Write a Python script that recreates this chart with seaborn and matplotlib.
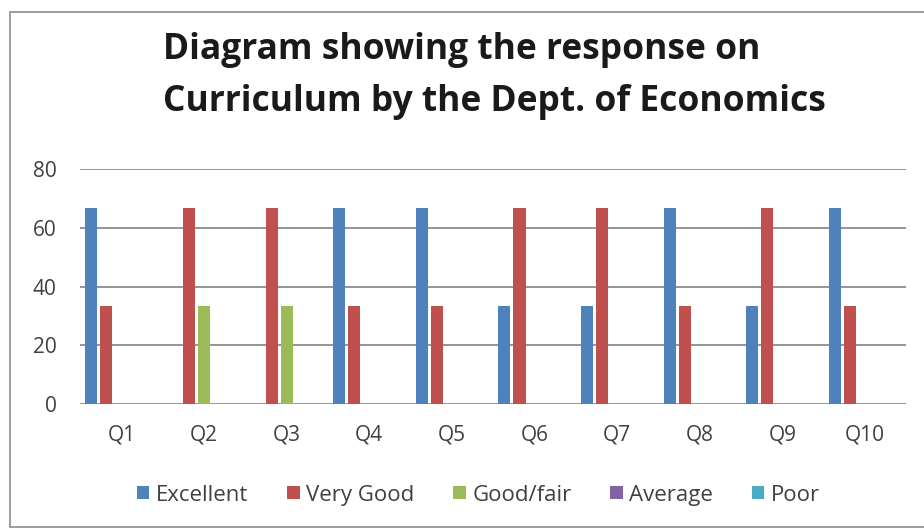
import pandas as pd
import matplotlib.pyplot as plt
import seaborn as sns
from matplotlib.patches import Rectangle

# data (percent of responses)
questions = ["Q1", "Q2", "Q3", "Q4", "Q5", "Q6", "Q7", "Q8", "Q9", "Q10"]
ratings = ["Excellent", "Very Good", "Good/fair", "Average", "Poor"]

excellent = [66.67, 0, 0, 66.67, 66.67, 33.33, 33.33, 66.67, 33.33, 66.67]
very_good = [33.33, 66.67, 66.67, 33.33, 33.33, 66.67, 66.67, 33.33, 66.67, 33.33]
good_fair = [0, 33.33, 33.33, 0, 0, 0, 0, 0, 0, 0]
average = [0, 0, 0, 0, 0, 0, 0, 0, 0, 0]
poor = [0, 0, 0, 0, 0, 0, 0, 0, 0, 0]

colors = ["#4F81BD", "#C0504D", "#9BBB59", "#8064A2", "#4BACC6"]

y_ticks = [0, 20, 40, 60, 80]

title = "Diagram showing the response on\nCurriculum by the Dept. of Economics"


# long format table for seaborn
series = [excellent, very_good, good_fair, average, poor]
rows = []
for rating, vals in zip(ratings, series):
    for q, v in zip(questions, vals):
        rows.append({"Question": q, "Rating": rating, "Value": v})
df = pd.DataFrame(rows)

sns.set_style("white")
plt.rcParams["font.family"] = ["Open Sans", "DejaVu Sans"]

fig = plt.figure(figsize=(9.24, 5.29), dpi=100)
ax = fig.add_axes([0.0866, 0.2363, 0.8944, 0.4442])

sns.barplot(
    data=df, x="Question", y="Value", hue="Rating",
    order=questions, hue_order=ratings, palette=colors, saturation=1,
    width=0.91, gap=0.2, linewidth=0, errorbar=None, ax=ax,
)

ax.set_ylim(0, 80)
ax.set_xlim(-0.5, len(questions) - 0.5)
ax.set_yticks(y_ticks)
ax.set_xlabel("")
ax.set_ylabel("")
ax.grid(axis="y", color="#8C8C8C", linewidth=1.3)
ax.set_axisbelow(True)
for s in ax.spines.values():
    s.set_visible(False)
ax.tick_params(axis="both", length=0, labelsize=15, labelcolor="#404040")
ax.tick_params(axis="y", pad=17)
ax.tick_params(axis="x", pad=15)

# legend under the plot
handles, labels = ax.get_legend_handles_labels()
ax.get_legend().remove()
fig.legend(handles, labels, loc="center", bbox_to_anchor=(0.518, 0.064),
           ncol=5, frameon=False, fontsize=16, handlelength=0.55,
           handleheight=0.55, handletextpad=0.3, columnspacing=1.75,
           labelcolor="#404040")

# title, two lines left aligned
fig.text(163 / 924, 1 - 76 / 529, title, fontsize=25.5, fontweight="bold",
         ha="left", va="center", linespacing=1.6, color="#1a1a1a")

# outer chart frame
fig.patches.append(Rectangle((10 / 924, 0.003), 0.99, 0.975,
                             transform=fig.transFigure, fill=False,
                             edgecolor="#8C8C8C", linewidth=1.2))

fig.savefig("out.png", dpi=100)
